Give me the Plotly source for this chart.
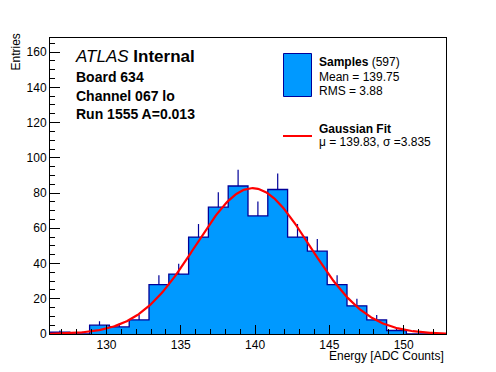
import numpy as np
import plotly.graph_objects as go

# ---- data ----
x_min, x_max = 126.2, 152.85
n_bins = 20
counts = [1, 0, 5, 4, 8, 28, 34, 55, 72, 84, 67, 82, 55, 47, 28, 16, 8, 2, 0, 0]
n_entries = 597
fit_mu, fit_sigma = 139.83, 3.835
x_ticks = [130, 135, 140, 145, 150]
y_ticks = [0, 20, 40, 60, 80, 100, 120, 140, 160]

# page has an 8px body margin; size the figure to fit the window
OFF = 8
W, H = 496 - OFF, 372 - OFF
ML, MR, MT, MB = 50 - OFF, 50, 38 - OFF, 38
PW, PH = W - ML - MR, H - MT - MB

def px(xp):  # page pixel -> paper
    return (xp - OFF - ML) / PW

def py(yp):
    return (H - MB - (yp - OFF)) / PH

bw = (x_max - x_min) / n_bins
edges = [x_min + i * bw for i in range(n_bins + 1)]
centers = [x_min + (i + 0.5) * bw for i in range(n_bins)]

FILL = "#0099ff"
EDGE = "#000099"

fig = go.Figure()

# filled step histogram
sx = [edges[0]] + edges[:-1] + [edges[-1], edges[-1]]
sy = [0] + counts + [counts[-1], 0]
fig.add_trace(go.Scatter(x=sx, y=sy, mode="lines", line=dict(shape="hv", color=EDGE, width=1.3),
                         fill="tozeroy", fillcolor=FILL, showlegend=False, hoverinfo="skip"))

# upper error bars
fig.add_trace(go.Scatter(x=centers, y=counts, mode="markers",
                         marker=dict(size=1, color="rgba(0,0,0,0)"),
                         error_y=dict(type="data", symmetric=False,
                                      array=[np.sqrt(c) for c in counts],
                                      arrayminus=[0] * n_bins,
                                      color=EDGE, thickness=1.2, width=0),
                         showlegend=False, hoverinfo="skip"))

# gaussian fit curve
amp = n_entries * bw / (fit_sigma * np.sqrt(2 * np.pi))
gx = np.linspace(x_min, x_max, 300)
gy = amp * np.exp(-0.5 * ((gx - fit_mu) / fit_sigma) ** 2)
fig.add_trace(go.Scatter(x=gx, y=gy, mode="lines", line=dict(color="#ff0000", width=2.2),
                         showlegend=False, hoverinfo="skip"))

FONT = "Liberation Sans, Arial, Helvetica, sans-serif"

fig.update_layout(
    width=W, height=H,
    margin=dict(l=ML, r=MR, t=MT, b=MB, pad=0, autoexpand=False),
    paper_bgcolor="white", plot_bgcolor="white",
    font=dict(family=FONT, size=12, color="black"),
    showlegend=False,
    xaxis=dict(range=[x_min, x_max], tickvals=x_ticks, ticks="inside", ticklen=9,
               tickcolor="black", showline=True, linecolor="black", linewidth=1, mirror=True,
               showgrid=False, zeroline=False, automargin=False,
               minor=dict(ticks="inside", ticklen=5, dtick=1, tick0=130, tickcolor="black", showgrid=False),
               tickfont=dict(size=12)),
    yaxis=dict(range=[0, 168], tickvals=y_ticks, ticks="inside", ticklen=10,
               tickcolor="black", showline=True, linecolor="black", linewidth=1, mirror=True,
               showgrid=False, zeroline=False, automargin=False,
               minor=dict(ticks="inside", ticklen=5, dtick=5, tick0=0, tickcolor="black", showgrid=False),
               tickfont=dict(size=12)),
)

def ann(text, xp, yp, size=12, xanchor="left", yanchor="middle", angle=0):
    fig.add_annotation(text=text, x=px(xp), y=py(yp), xref="paper", yref="paper",
                       xanchor=xanchor, yanchor=yanchor, showarrow=False, textangle=angle,
                       font=dict(size=size, family=FONT, color="black"))

# axis titles
ann("Energy [ADC Counts]", 446, 356, 12, xanchor="right")
ann("Entries", 15, 32, 12, xanchor="center", yanchor="top", angle=-90)

# labels
ann("<i>ATLAS</i> <b>Internal</b>", 73, 57, 17)
ann("<b>Board 634</b>", 74, 77, 14)
ann("<b>Channel 067 lo</b>", 74, 96, 14)
ann("<b>Run 1555 A=0.013</b>", 74, 114, 14)

# legend
fig.add_shape(type="rect", xref="paper", yref="paper", x0=px(283.5), x1=px(311.5),
              y0=py(96.5), y1=py(53.5), fillcolor=FILL, line=dict(color=EDGE, width=1))
ann("<b>Samples</b> (597)", 317, 62, 12)
ann("Mean = 139.75", 317, 77, 12)
ann("RMS = 3.88", 317, 91, 12)
fig.add_shape(type="line", xref="paper", yref="paper", x0=px(283), x1=px(312),
              y0=py(136), y1=py(136), line=dict(color="#ff0000", width=2))
ann("<b>Gaussian Fit</b>", 317, 129, 12)
ann("μ = 139.83, σ =3.835", 317, 142, 12)

fig.write_html("out.html")
